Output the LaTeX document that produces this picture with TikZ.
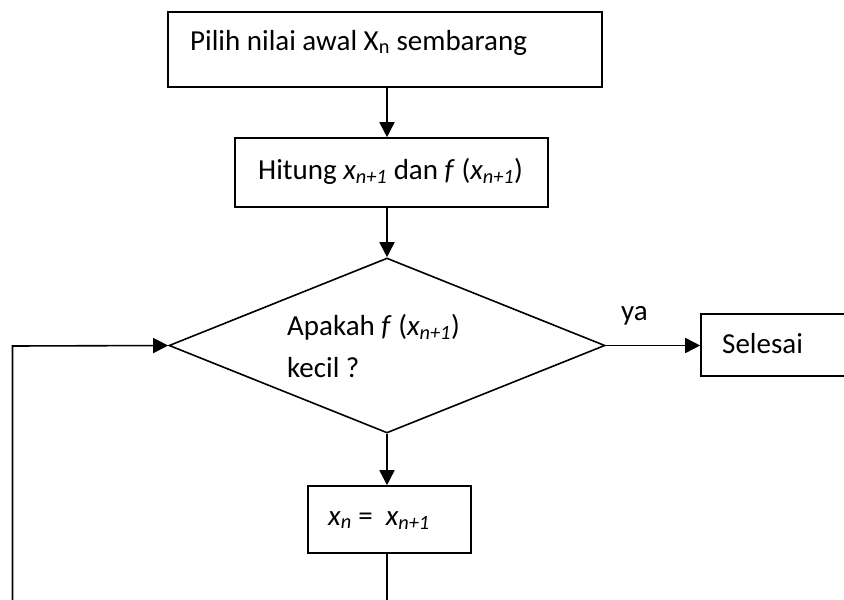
\documentclass[tikz,border=0pt]{standalone}
\usepackage{fontspec}
\setmainfont{Carlito}
\usetikzlibrary{arrows.meta, shapes.geometric}

\tikzset{
  box/.style={draw, rectangle, line width=1.6pt, inner sep=0pt},
  txt/.style={inner sep=0pt, anchor=base west, font=\fontsize{29}{35}\selectfont},
  arr/.style={-{Triangle[length=15pt,width=15pt]}, line width=1.6pt},
  line/.style={line width=1.6pt}
}

\begin{document}
\begin{tikzpicture}[x=1pt, y=-1pt]
    \useasboundingbox (0,0) rectangle (844,600);
    \clip (0,0) rectangle (844,600);

    % boxes
    \node[box, minimum width=434pt, minimum height=75pt] (start) at (385,49.5) {};
    \node[txt] (starttxt) at (190,50) {Pilih nilai awal X\textsubscript{n} sembarang};

    \node[box, minimum width=313pt, minimum height=69pt] (calc) at (391.5,172.5) {};
    \node[txt] (calctxt) at (258,179) {Hitung \textit{x\textsubscript{n+1}} dan \textit{f} (\textit{x\textsubscript{n+1}})};

    \node[box, diamond, minimum width=436pt, minimum height=175pt] (test) at (387,345.5) {};
    \node[txt] (testtxt) at (287,335) {Apakah \textit{f} (\textit{x\textsubscript{n+1}})};
    \node[txt] (testtxtb) at (287,377) {kecil ?};

    \node[box, minimum width=200pt, minimum height=62pt] (stop) at (801,345) {};
    \node[txt] (stoptxt) at (722,353) {Selesai};

    \node[box, minimum width=163pt, minimum height=67pt] (upd) at (389.5,519.5) {};
    \node[txt] (updtxt) at (328,525) {\textit{x\textsubscript{n}} =\ \ \textit{x\textsubscript{n+1}}};

    \node[txt] (yes) at (621,320) {ya};

    % arrows
    \draw[arr] (start.south -| test.north) -- (calc.north -| test.north);
    \draw[arr] (calc.south -| test.north) -- (test.north);
    \draw[arr] (test.east) -- (stop.west |- test.east);
    \draw[arr] (test.south) -- (upd.north -| test.south);
    \draw[arr] (upd.south -| test.south) -- ++(0,120) -| (12.5,346) -- (test.west);
\end{tikzpicture}
\end{document}
